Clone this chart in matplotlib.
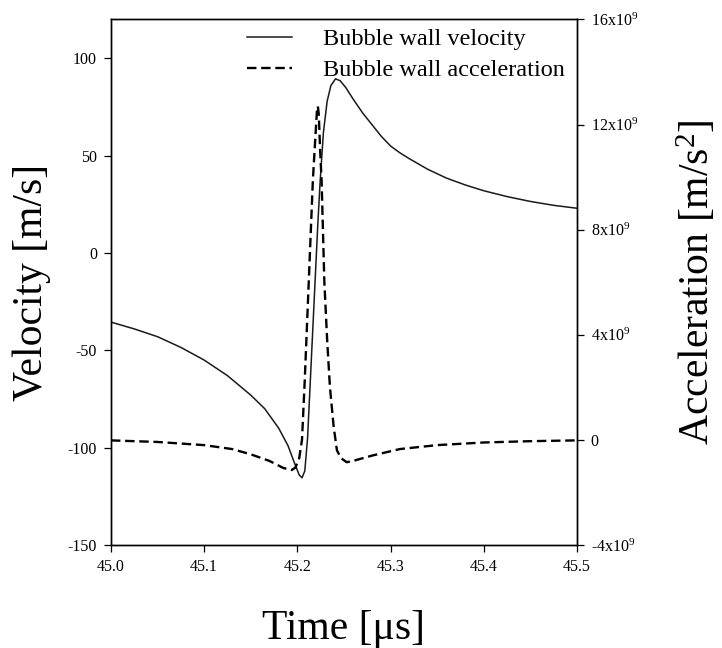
import numpy as np
import matplotlib
matplotlib.use("Agg")
import matplotlib.pyplot as plt
from matplotlib.lines import Line2D

# bubble wall velocity (time in us, velocity in m/s)
vel_t = [45.00, 45.025, 45.05, 45.075, 45.10, 45.125, 45.15, 45.165, 45.18,
         45.19, 45.197, 45.202, 45.205, 45.208, 45.211, 45.214, 45.218,
         45.222, 45.2245, 45.228, 45.232, 45.236, 45.241, 45.246, 45.252,
         45.26, 45.27, 45.28, 45.29, 45.30, 45.31, 45.32, 45.34, 45.36,
         45.38, 45.40, 45.425, 45.45, 45.475, 45.50]
vel_v = [-35.5, -39, -43, -48.5, -55, -63, -73, -80, -90,
         -99, -108, -114, -115.5, -112, -95, -65, -25,
         15, 37, 62, 78, 86, 89.5, 88.5, 85,
         79, 72, 66, 60, 55, 51.5, 48.5, 43, 38.5,
         35, 32, 29, 26.5, 24.5, 23]

# bubble wall acceleration (units of 1e9 m/s^2)
acc_t = [45.00, 45.05, 45.10, 45.13, 45.15, 45.17, 45.185, 45.194, 45.198,
         45.202, 45.205, 45.208, 45.212, 45.2167, 45.219, 45.221, 45.222,
         45.223, 45.2245, 45.226, 45.229, 45.232, 45.235, 45.239, 45.2425,
         45.247, 45.253, 45.26, 45.28, 45.31, 45.35, 45.40, 45.45, 45.50]
acc_a = [-0.02, -0.08, -0.2, -0.35, -0.55, -0.8, -1.07, -1.15, -1.05,
         -0.7, 0.0, 2.3, 5.8, 9.9, 11.3, 12.5, 12.7,
         12.4, 11.0, 9.9, 6.0, 3.8, 2.0, 0.5, -0.4,
         -0.7, -0.85, -0.8, -0.6, -0.35, -0.2, -0.1, -0.05, -0.02]

x_ticks = [45.0, 45.1, 45.2, 45.3, 45.4, 45.5]
v_ticks = [-150, -100, -50, 0, 50, 100]
a_ticks = [-4, 0, 4, 8, 12, 16]
a_labels = ["-4x10$^9$", "0", "4x10$^9$", "8x10$^9$", "12x10$^9$", "16x10$^9$"]

plt.rcParams.update({
    "font.family": "Liberation Serif",
    "mathtext.fontset": "custom",
    "mathtext.rm": "Liberation Serif",
    "mathtext.it": "Liberation Serif:italic",
    "mathtext.bf": "Liberation Serif:bold",
    "axes.linewidth": 1.0,
    "axes.unicode_minus": False,
})

fig = plt.figure(figsize=(7.22, 6.48), dpi=100)
ax = fig.add_axes([0.1537, 0.159, 0.6453, 0.811])
ax2 = ax.twinx()

ax.plot(np.asarray(vel_t), vel_v, color="#1a1a1a", lw=1.1)
ax2.plot(np.asarray(acc_t), np.asarray(acc_a) * 1e9, color="black", lw=1.7,
         dashes=(4, 2))

ax.set_xlim(45.0, 45.5)
ax.set_ylim(-150, 120)
ax2.set_ylim(-4e9, 16e9)

ax.set_xticks(x_ticks)
ax.set_xticklabels([f"{x:.1f}" for x in x_ticks])
ax.set_yticks(v_ticks)
ax2.set_yticks([a * 1e9 for a in a_ticks])
ax2.set_yticklabels(a_labels)

for a in (ax, ax2):
    a.tick_params(axis="both", labelsize=11.5, length=5, width=0.9,
                  direction="out", pad=5)
ax.tick_params(top=False)

ax.set_xlabel("Time [\u03bcs]", fontsize=30)
ax.set_ylabel("Velocity [m/s]", fontsize=30)
ax2.set_ylabel("Acceleration [m/s$^2$]", fontsize=30)
ax.xaxis.set_label_coords(0.5, -0.123)
ax.yaxis.set_label_coords(-0.128, 0.5)
ax2.yaxis.set_label_coords(1.21, 0.5)

handles = [Line2D([], [], color="#1a1a1a", lw=1.1),
           Line2D([], [], color="black", lw=1.7, dashes=(4, 2))]
ax2.legend(handles, ["Bubble wall velocity", "Bubble wall acceleration"],
           loc="upper left", bbox_to_anchor=(0.255, 1.016), frameon=False,
           fontsize=17.5, handlelength=1.85, handletextpad=1.3,
           labelspacing=0.37, borderpad=0.2)

fig.savefig("out.png", dpi=100, facecolor="white")
